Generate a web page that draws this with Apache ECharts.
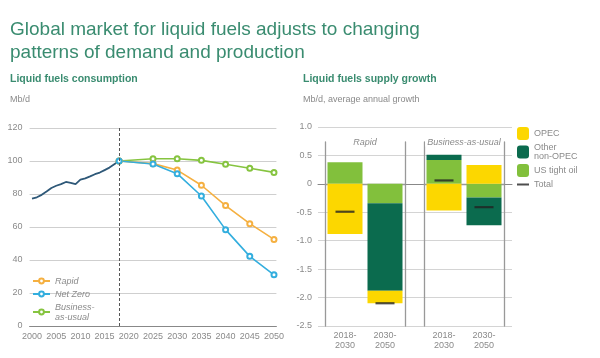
<!DOCTYPE html>
<html><head><meta charset="utf-8">
<script src="https://cdn.jsdelivr.net/npm/echarts@6/dist/echarts.min.js"></script>
<style>html,body{margin:0;padding:0;background:#fff}#c{width:600px;height:358px}</style>
</head><body><div id="c"></div>
<script>
// ---- Left chart: Liquid fuels consumption (Mb/d)
const histYears = [2000,2001,2002,2003,2004,2005,2006,2007,2008,2009,2010,2011,2012,2013,2014,2015,2016,2017,2018];
const histValues = [77.2,78,79.5,81.5,83.6,85,86,87.3,86.8,86,88.7,89.5,90.7,92,93,94.5,96,98,100];
const projYears = [2018,2025,2030,2035,2040,2045,2050];
const rapid = [100,98.4,94.5,85.3,73,62,52.5];
const netZero = [100,98.2,92.3,78.8,58.4,42.2,31];
const bau = [100,101.4,101.4,100.4,98,95.6,93.1];
const xTicks = [2000,2005,2010,2015,2020,2025,2030,2035,2040,2045,2050];

// ---- Right chart: Liquid fuels supply growth (Mb/d, average annual growth)
const periods = ['2018-\n2030','2030-\n2050'];
const opecRapid = [-0.88,-0.22];
const nonOpecRapid = [0,-1.54];
const tightRapid = [0.38,-0.34];
const totalRapid = [-0.49,-2.10];
const opecBau = [-0.47,0.33];
const nonOpecBau = [0.09,-0.49];
const tightBau = [0.42,-0.24];
const totalBau = [0.06,-0.41];

const GREEN_T = '#3a8c70', GRAY = '#8a8a8a';
const C_RAPID = '#f5b041', C_NZ = '#33aede', C_BAU = '#86c440', C_HIST = '#2e5878';
const C_OPEC = '#fcd700', C_NON = '#0b6b4e', C_TIGHT = '#82c03c';

const pairs = (xs, ys) => xs.map((x,i)=>[x, ys[i]]);
const chart = echarts.init(document.getElementById('c'), null, {renderer:'canvas'});

const rightScale = 199/3.5;
const subTop = 142, subBottom = 326;
const subMax = -2.5 + (subBottom - subTop)/rightScale;

function subAxes(gi){
  return {
    x: {type:'category', gridIndex:gi, data:periods, position:'bottom',
        axisLine:{show:false}, axisTick:{show:false},
        axisLabel:{color:GRAY, fontSize:9, lineHeight:10, margin:5, fontFamily:'Liberation Sans'}},
    xTop: {type:'category', gridIndex:gi, data:periods, position:'top',
        axisLine:{show:true, lineStyle:{color:'#999', width:1.3}}, axisTick:{show:false}, axisLabel:{show:false},
        name: gi===2 ? 'Rapid' : 'Business-as-usual', nameLocation:'middle', nameGap:0,
        nameTextStyle:{color:GRAY, fontSize:9, fontStyle:'italic', verticalAlign:'middle', backgroundColor:'#fff', padding:[0,2], fontFamily:'Liberation Sans'}},
    yL: {type:'value', gridIndex:gi, min:-2.5, max:subMax, position:'left', axisLine:{show:true, onZero:false, lineStyle:{color:'#999', width:1.3}},
        axisTick:{show:false}, axisLabel:{show:false}, splitLine:{show:false}},
    yR: {type:'value', gridIndex:gi, min:-2.5, max:subMax, position:'right', axisLine:{show:true, onZero:false, lineStyle:{color:'#999', width:1.3}},
        axisTick:{show:false}, axisLabel:{show:false}, splitLine:{show:false}}
  };
}
const a2 = subAxes(2), a3 = subAxes(3);

const option = {
  animation:false,
  backgroundColor:'#fff',
  textStyle:{fontFamily:'Liberation Sans'},
  title:[
    {text:'Global market for liquid fuels adjusts to changing\npatterns of demand and production', left:10, top:18, padding:0,
     textStyle:{color:GREEN_T, fontSize:19, fontWeight:'normal', lineHeight:23, fontFamily:'Liberation Sans'}},
    {text:'Liquid fuels consumption', left:10, top:74, padding:0, textStyle:{color:GREEN_T, fontSize:10.5, fontWeight:'bold'}},
    {text:'Mb/d', left:10, top:95, padding:0, textStyle:{color:GRAY, fontSize:9, fontWeight:'normal'}},
    {text:'Liquid fuels supply growth', left:303, top:74, padding:0, textStyle:{color:GREEN_T, fontSize:10.5, fontWeight:'bold'}},
    {text:'Mb/d, average annual growth', left:303, top:95, padding:0, textStyle:{color:GRAY, fontSize:9, fontWeight:'normal'}}
  ],
  legend:[
    {data:['Rapid','Net Zero','Business-\nas-usual'], orient:'vertical', left:27, top:271, itemWidth:17, itemHeight:6, itemGap:3,
     textStyle:{color:GRAY, fontSize:9, fontStyle:'italic', lineHeight:10}},
    {data:['OPEC','Other\nnon-OPEC','US tight oil',{name:'Total', icon:'path://M0,0H12V2H0Z'}], orient:'vertical', left:512, top:122,
     itemWidth:12, itemHeight:13, itemGap:3, textStyle:{color:GRAY, fontSize:9, lineHeight:9}}
  ],
  grid:[
    {left:29.6, top:128, width:246.8, height:198},
    {left:318, top:127, width:194, height:199},
    {left:325, top:subTop, width:80, height:subBottom-subTop},
    {left:424, top:subTop, width:80, height:subBottom-subTop}
  ],
  xAxis:[
    {type:'value', gridIndex:0, min:1999.5, max:2050.5,
     axisLine:{show:true, lineStyle:{color:'#888'}}, axisTick:{show:false}, splitLine:{show:false},
     axisLabel:{customValues:xTicks, color:GRAY, fontSize:9, margin:6, formatter:v=>String(v)}},
    {type:'category', gridIndex:1, data:['a'], axisLine:{show:true, onZero:true, lineStyle:{color:'#888'}},
     axisTick:{show:false}, axisLabel:{show:false}},
    a2.x, a2.xTop, a3.x, a3.xTop
  ],
  yAxis:[
    {type:'value', gridIndex:0, min:0, max:120, interval:20, axisLine:{show:false}, axisTick:{show:false},
     axisLabel:{color:GRAY, fontSize:9, margin:7}, splitLine:{lineStyle:{color:'#cfcfcf'}}},
    {type:'value', gridIndex:1, min:-2.5, max:1.0, interval:0.5, axisLine:{show:false}, axisTick:{show:false},
     axisLabel:{color:GRAY, fontSize:9, margin:6, formatter:v=> v===0 ? '0' : v.toFixed(1)}, splitLine:{lineStyle:{color:'#d4d4d4'}}},
    a2.yL, a2.yR, a3.yL, a3.yR
  ],
  series:[
    {name:'History', type:'line', xAxisIndex:0, yAxisIndex:0, data:pairs(histYears,histValues), showSymbol:false,
     lineStyle:{color:C_HIST, width:1.8}, itemStyle:{color:C_HIST}, z:3,
     markLine:{silent:true, symbol:'none', label:{show:false}, lineStyle:{color:'#555', type:[3,2], width:1},
       data:[[{coord:[2018,0]},{coord:[2018,120]}]]}},
    {name:'Business-\nas-usual', type:'line', xAxisIndex:0, yAxisIndex:0, data:pairs(projYears,bau), symbol:'emptyCircle', symbolSize:5,
     lineStyle:{color:C_BAU, width:1.6}, itemStyle:{color:C_BAU, borderWidth:1.2}},
    {name:'Rapid', type:'line', xAxisIndex:0, yAxisIndex:0, data:pairs(projYears,rapid), symbol:'emptyCircle', symbolSize:5,
     lineStyle:{color:C_RAPID, width:1.6}, itemStyle:{color:C_RAPID, borderWidth:1.2}},
    {name:'Net Zero', type:'line', xAxisIndex:0, yAxisIndex:0, data:pairs(projYears,netZero), symbol:'emptyCircle', symbolSize:5,
     lineStyle:{color:C_NZ, width:1.6}, itemStyle:{color:C_NZ, borderWidth:1.2}},

    {name:'US tight oil', type:'bar', xAxisIndex:2, yAxisIndex:2, stack:'r', data:tightRapid, barWidth:35, itemStyle:{color:C_TIGHT}},
    {name:'Other\nnon-OPEC', type:'bar', xAxisIndex:2, yAxisIndex:2, stack:'r', data:nonOpecRapid, barWidth:35, itemStyle:{color:C_NON}},
    {name:'OPEC', type:'bar', xAxisIndex:2, yAxisIndex:2, stack:'r', data:opecRapid, barWidth:35, itemStyle:{color:C_OPEC}},
    {name:'Total', type:'scatter', xAxisIndex:2, yAxisIndex:2, data:totalRapid, symbol:'rect', symbolSize:[19,2.2], symbolKeepAspect:true,
     itemStyle:{color:'#222'}, z:5},

    {name:'US tight oil', type:'bar', xAxisIndex:4, yAxisIndex:4, stack:'b', data:tightBau, barWidth:35, itemStyle:{color:C_TIGHT}},
    {name:'Other\nnon-OPEC', type:'bar', xAxisIndex:4, yAxisIndex:4, stack:'b', data:nonOpecBau, barWidth:35, itemStyle:{color:C_NON}},
    {name:'OPEC', type:'bar', xAxisIndex:4, yAxisIndex:4, stack:'b', data:opecBau, barWidth:35, itemStyle:{color:C_OPEC}},
    {name:'Total', type:'scatter', xAxisIndex:4, yAxisIndex:4, data:totalBau, symbol:'rect', symbolSize:[19,2.2], symbolKeepAspect:true,
     itemStyle:{color:'#222'}, z:5}
  ]
};
chart.setOption(option);
</script></body></html>
